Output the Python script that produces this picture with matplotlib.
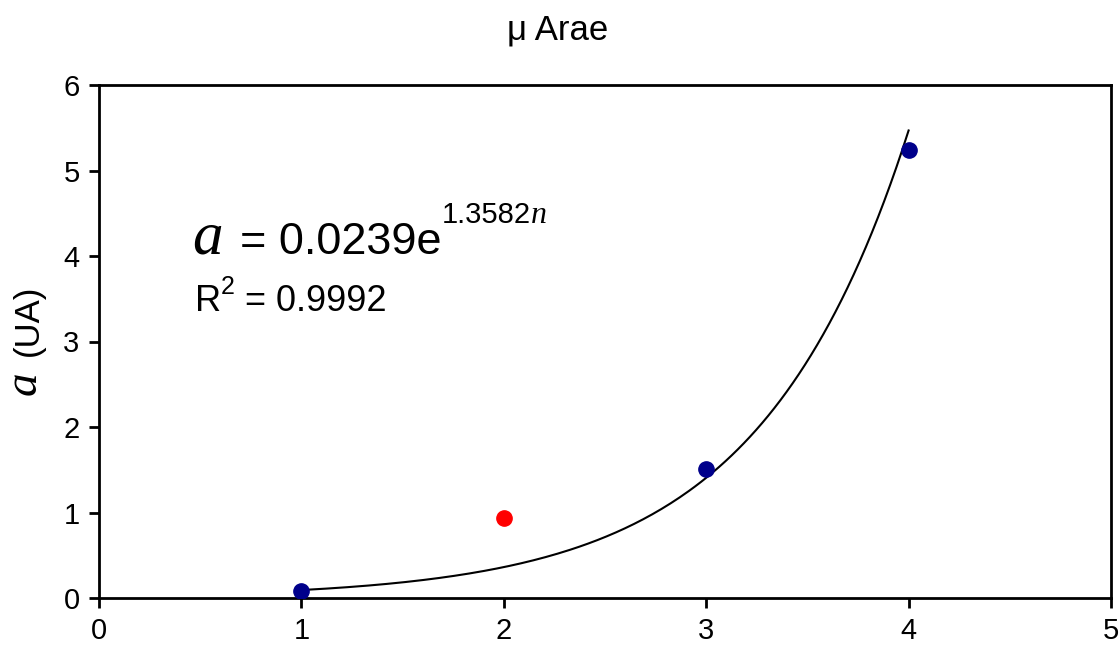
import numpy as np
import matplotlib
matplotlib.use("Agg")
import matplotlib.pyplot as plt

plt.rcParams['font.family'] = ['Liberation Sans', 'DejaVu Sans']

# data
n_fit = [1, 3, 4]
a_fit = [0.085, 1.51, 5.24]
n_out = [2]
a_out = [0.93]
coef = 0.0239
expo = 1.3582
r2 = 0.9992

W, H = 1120, 646
fig = plt.figure(figsize=(W / 100, H / 100), dpi=100)
ax = fig.add_axes([99 / W, 1 - 598 / H, (1111 - 99) / W, (598 - 85) / H])


def px(x, y):
    return x / W, 1 - y / H


# fitted curve
nn = np.linspace(1, 4, 200)
ax.plot(nn, coef * np.exp(expo * nn), color='black', lw=1.5, zorder=2)
ax.plot(n_fit, a_fit, 'o', color='#00008b', ms=11, zorder=3)
ax.plot(n_out, a_out, 'o', color='#ff0000', ms=11, zorder=3)

ax.set_xlim(0, 5)
ax.set_ylim(0, 6)
ax.set_xticks(range(0, 6))
ax.set_yticks(range(0, 7))
ax.tick_params(direction='out', length=7, width=2, labelsize=21, pad=7)
for s in ax.spines.values():
    s.set_linewidth(2)

fig.text(*px(558, 40), 'μ Arae', ha='center', va='baseline', fontsize=25)

# y label: italic a + (UA)
fig.text(*px(36, 395), 'a', rotation=90, rotation_mode='anchor', ha='left',
         va='baseline', fontsize=34, family='Liberation Serif', style='italic')
fig.text(*px(38, 356), '(UA)', rotation=90, rotation_mode='anchor', ha='left',
         va='baseline', fontsize=25)

# equation, placed piece by piece
fig.canvas.draw()
r = fig.canvas.get_renderer()
fig.text(*px(192, 254), 'a', ha='left', va='baseline', fontsize=44,
         family='Liberation Serif', style='italic')
t2 = fig.text(*px(240, 254), '= %.4fe' % coef, ha='left',
              va='baseline', fontsize=32.5)
x2 = t2.get_window_extent(r).x1
t3 = fig.text(x2 / W, 1 - 223 / H, '%.4f' % expo, ha='left', va='baseline',
              fontsize=21)
x3 = t3.get_window_extent(r).x1
fig.text(x3 / W, 1 - 223 / H, 'n', ha='left', va='baseline', fontsize=23,
         family='Liberation Serif', style='italic')

t5 = fig.text(*px(195, 311), 'R', ha='left', va='baseline', fontsize=26)
x5 = t5.get_window_extent(r).x1
fig.text(x5 / W, 1 - 294 / H, '2', ha='left', va='baseline', fontsize=18)
fig.text(*px(245, 311), '= %.4f' % r2, ha='left',
         va='baseline', fontsize=26)

fig.savefig('out.png', dpi=100)
